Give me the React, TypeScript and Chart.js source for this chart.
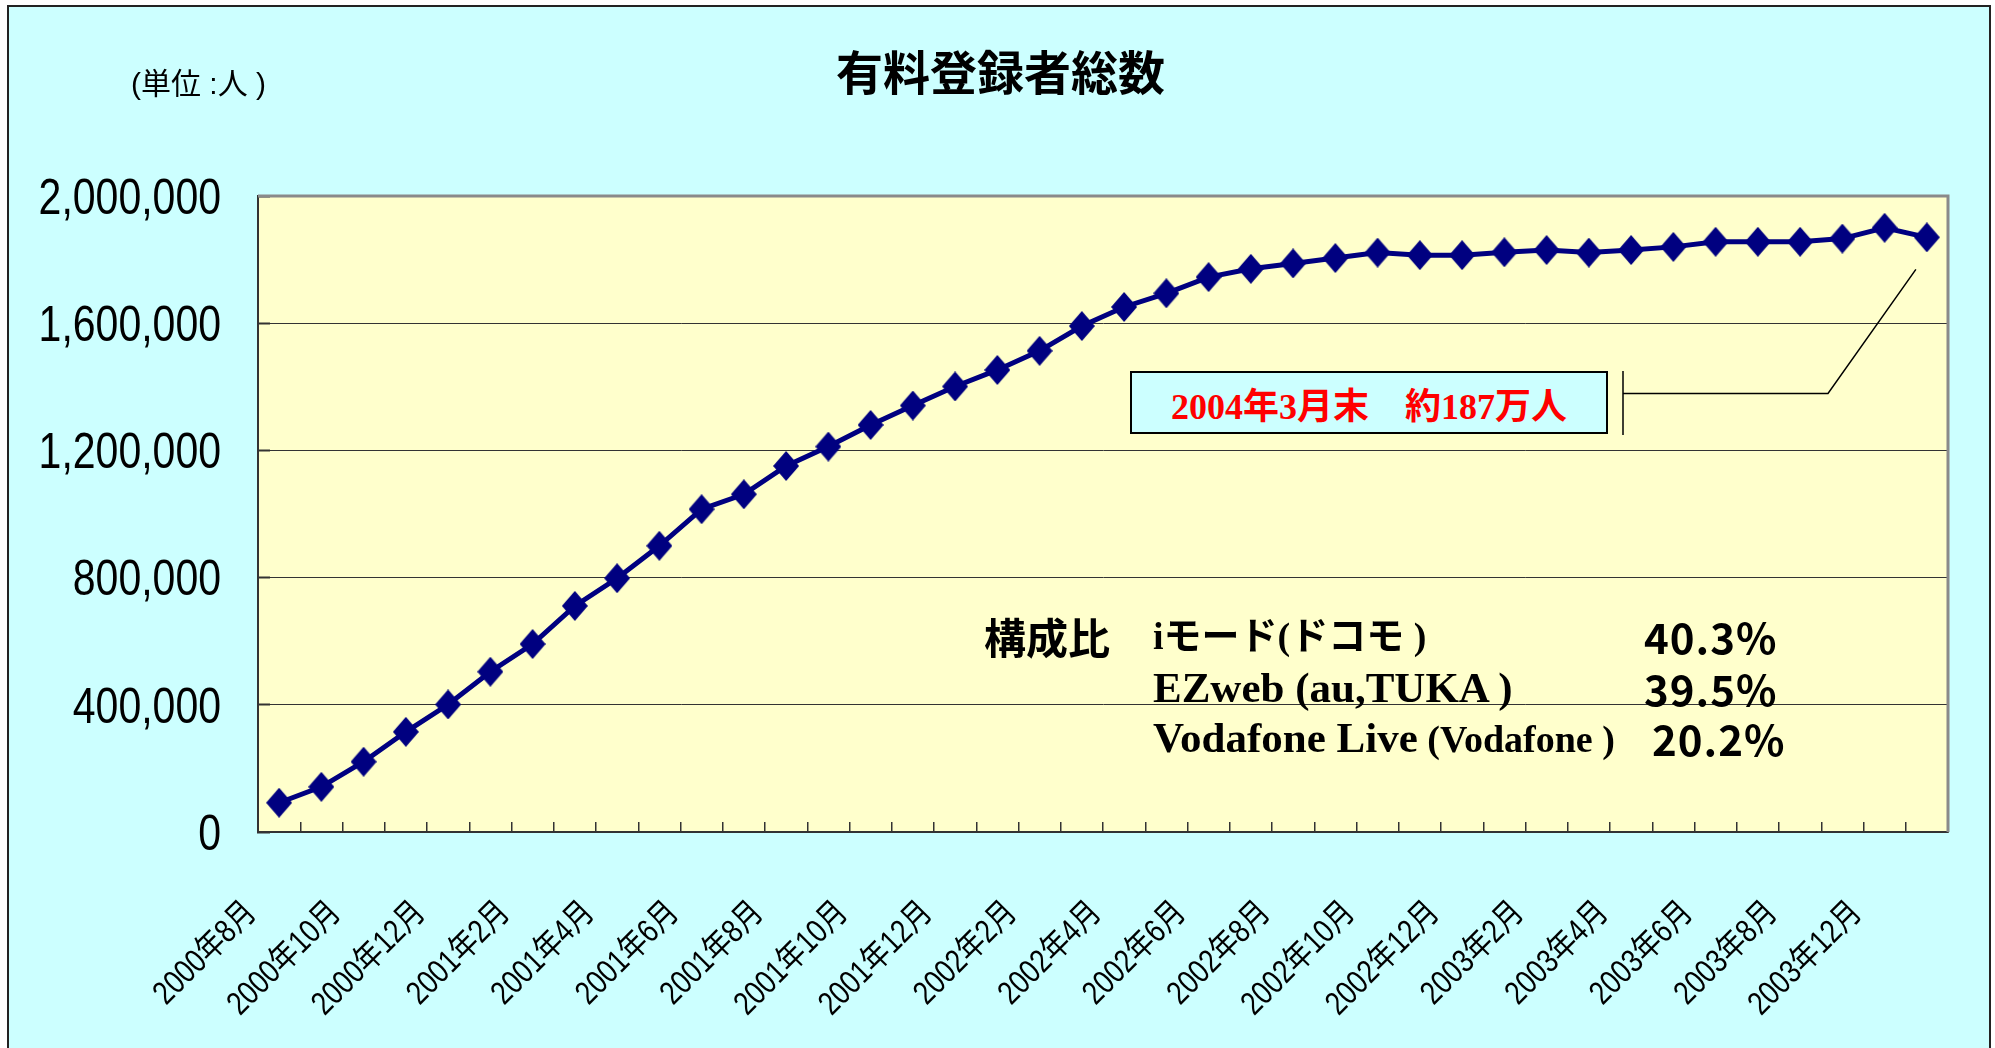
import React, { useEffect, useRef } from 'react';
import { Chart, registerables, LinearScale, CategoryScale } from 'chart.js';

Chart.register(...registerables);

// ---- data ----
const months: string[] = [
  '2000年8月', '2000年9月', '2000年10月', '2000年11月', '2000年12月',
  '2001年1月', '2001年2月', '2001年3月', '2001年4月', '2001年5月', '2001年6月',
  '2001年7月', '2001年8月', '2001年9月', '2001年10月', '2001年11月', '2001年12月',
  '2002年1月', '2002年2月', '2002年3月', '2002年4月', '2002年5月', '2002年6月',
  '2002年7月', '2002年8月', '2002年9月', '2002年10月', '2002年11月', '2002年12月',
  '2003年1月', '2003年2月', '2003年3月', '2003年4月', '2003年5月', '2003年6月',
  '2003年7月', '2003年8月', '2003年10月', '2003年12月', '2004年3月',
];

const subscribers: number[] = [
  92000, 142000, 221000, 315000, 401000, 504000, 591000, 711000, 798000, 900000,
  1015000, 1062000, 1151000, 1212000, 1280000, 1341000, 1401000, 1453000, 1513000, 1591000,
  1651000, 1694000, 1745000, 1771000, 1788000, 1805000, 1822000, 1814000, 1814000, 1823000,
  1830000, 1822000, 1830000, 1840000, 1856000, 1856000, 1856000, 1866000, 1900000, 1870000,
];

const yMin = 0;
const yMax = 2000000;
const yStep = 400000;

const titleText = '有料登録者総数';
const unitText = '(単位 :人 )';
const calloutText = '2004年3月末\u3000約187万人';
const shareHeading = '構成比';
const shareNames: string[] = ['iモード(ドコモ )', 'EZweb (au,TUKA )', 'Vodafone Live'];
const shareSubNames: string[] = ['', '', '(Vodafone )'];
const shareValues: string[] = ['40.3%', '39.5%', '20.2%'];

const NAVY = '#000080';
const CONDENSE = 0.82;

// draws the scale's own label items, horizontally condensed (narrow font look)
function drawCondensedLabels(scale: any, chartArea: any) {
  if (!scale.options.ticks.display) return;
  const ctx = scale.ctx as CanvasRenderingContext2D;
  const items = scale.getLabelItems(chartArea);
  for (const item of items) {
    const { label, font, textOffset, options: o } = item;
    if (label === '' || label == null) continue;
    ctx.save();
    ctx.translate(o.translation[0], o.translation[1]);
    ctx.rotate(o.rotation);
    ctx.scale(CONDENSE, 1);
    ctx.font = font.string;
    ctx.fillStyle = o.color;
    ctx.textAlign = o.textAlign;
    ctx.textBaseline = o.textBaseline;
    const lines = Array.isArray(label) ? label : [label];
    lines.forEach((l: any, j: number) => ctx.fillText(String(l), 0, textOffset + j * font.lineHeight));
    ctx.restore();
  }
}

class NarrowLinearScale extends (LinearScale as any) {
  static id = 'narrowLinear';
  drawLabels(chartArea: any) { drawCondensedLabels(this, chartArea); }
}
class NarrowCategoryScale extends (CategoryScale as any) {
  static id = 'narrowCategory';
  drawLabels(chartArea: any) { drawCondensedLabels(this, chartArea); }
}
Chart.register(NarrowLinearScale as any, NarrowCategoryScale as any);

function makeDiamond(): HTMLCanvasElement {
  const c = document.createElement('canvas');
  c.width = 26;
  c.height = 30;
  const g = c.getContext('2d')!;
  g.fillStyle = NAVY;
  g.beginPath();
  g.moveTo(13, 0);
  g.lineTo(26, 15);
  g.lineTo(13, 30);
  g.lineTo(0, 15);
  g.closePath();
  g.fill();
  return c;
}

const plotDecor = {
  id: 'plotDecor',
  beforeDraw(chart: any) {
    const { ctx, chartArea: a } = chart;
    ctx.save();
    ctx.fillStyle = '#FFFFCC';
    ctx.fillRect(a.left, a.top, a.right - a.left, a.bottom - a.top);
    ctx.restore();
  },
  beforeDatasetsDraw(chart: any) {
    const { ctx, chartArea: a } = chart;
    ctx.save();
    ctx.strokeStyle = '#8a8a8a';
    ctx.lineWidth = 3;
    ctx.beginPath();
    ctx.moveTo(a.left, a.top);
    ctx.lineTo(a.right, a.top);
    ctx.lineTo(a.right, a.bottom);
    ctx.stroke();
    ctx.restore();
  },
  afterDatasetsDraw(chart: any) {
    const { ctx } = chart;
    const xs = chart.scales.x;
    const ys = chart.scales.y;
    const last = subscribers.length - 1;
    const px = xs.getPixelForValue(last);
    const py = ys.getPixelForValue(subscribers[last]);
    ctx.save();
    ctx.strokeStyle = '#000';
    ctx.lineWidth = 1.5;
    ctx.beginPath();
    ctx.moveTo(1623, 371);
    ctx.lineTo(1623, 435);
    ctx.moveTo(1623, 393.5);
    ctx.lineTo(1828, 393.5);
    ctx.lineTo(px - 11, py + 32);
    ctx.stroke();
    ctx.restore();
  },
};

export default function App() {
  const canvasRef = useRef<HTMLCanvasElement | null>(null);

  useEffect(() => {
    if (!canvasRef.current) return;
    const diamond = makeDiamond();
    const chart = new Chart(canvasRef.current, {
      type: 'line',
      data: {
        labels: months,
        datasets: [
          {
            data: subscribers,
            borderColor: NAVY,
            borderWidth: 5,
            pointStyle: diamond as any,
            pointRadius: 14,
            pointBackgroundColor: NAVY,
            tension: 0,
          },
        ],
      },
      options: {
        responsive: false,
        animation: false,
        devicePixelRatio: 1,
        layout: { padding: { left: 0, right: 47, top: 196, bottom: 0 } },
        plugins: {
          legend: { display: false },
          title: { display: false },
          tooltip: { enabled: false },
        },
        scales: {
          x: {
            type: 'narrowCategory' as any,
            offset: true,
            grid: {
              display: true,
              offset: true,
              drawOnChartArea: false,
              drawTicks: true,
              tickLength: -10,
              color: '#333',
              lineWidth: 1.5,
            },
            border: { display: true, color: '#333', width: 2 },
            ticks: {
              autoSkip: false,
              minRotation: 45,
              maxRotation: 45,
              padding: 72,
              labelOffset: -28,
              color: '#000',
              font: { family: "'Liberation Sans', 'Noto Sans CJK JP', sans-serif", size: 33 },
              callback: (_v: any, i: number) => (i % 2 === 0 ? months[i] : ''),
            },
            afterFit: (s: any) => { s.height = 216; s.paddingLeft = 0; s.paddingRight = 0; },
          } as any,
          y: {
            type: 'narrowLinear' as any,
            min: yMin,
            max: yMax,
            ticks: {
              stepSize: yStep,
              padding: 49,
              labelOffset: 4,
              color: '#000',
              font: { family: "'Liberation Sans', Arial, sans-serif", size: 50 },
              callback: (v: any) => Number(v).toLocaleString('en-US'),
            },
            grid: {
              color: '#333',
              lineWidth: 1,
              drawTicks: true,
              tickLength: -12,
              tickWidth: 2,
            },
            border: { display: true, color: '#333', width: 2 },
            afterFit: (s: any) => { s.width = 258; s.paddingTop = 0; s.paddingBottom = 0; },
          } as any,
        },
      },
      plugins: [plotDecor],
    });
    return () => chart.destroy();
  }, []);

  const gothic = "'Noto Sans CJK JP', 'Noto Sans', sans-serif";
  const serif = "'Liberation Serif', 'Noto Sans CJK JP', serif";

  const rowY = [636, 688, 738];

  return (
    <div style={{ position: 'absolute', left: 0, top: 0, width: 1995, height: 1048, overflow: 'hidden', background: '#fff' }}>
      <div style={{ position: 'absolute', left: 7, top: 5, width: 1984, height: 1100, boxSizing: 'border-box', border: '2px solid #222', background: '#CCFFFF' }} />
      <canvas ref={canvasRef} width={1995} height={1048} style={{ position: 'absolute', left: 0, top: 0, width: 1995, height: 1048 }} />
      <div style={{ position: 'absolute', left: 836, top: 46, fontFamily: gothic, fontWeight: 700, fontSize: 47, lineHeight: '47px', color: '#000', whiteSpace: 'nowrap' }}>{titleText}</div>
      <div style={{ position: 'absolute', left: 131, top: 68, fontFamily: "'Liberation Sans', 'Noto Sans CJK JP', sans-serif", fontSize: 30, lineHeight: '31px', color: '#000', whiteSpace: 'nowrap' }}>{unitText}</div>
      <div style={{ position: 'absolute', left: 1130, top: 371, width: 478, height: 63, boxSizing: 'border-box', border: '2px solid #000', background: '#CCFFFF', display: 'flex', alignItems: 'center', justifyContent: 'center', fontFamily: serif, fontWeight: 700, fontSize: 36, color: '#FF0000', whiteSpace: 'nowrap' }}>{calloutText}</div>
      <div style={{ position: 'absolute', left: 984, top: rowY[0] - 22, fontFamily: gothic, fontWeight: 700, fontSize: 42, lineHeight: '44px', color: '#000', whiteSpace: 'nowrap' }}>{shareHeading}</div>
      {shareNames.map((n, i) => (
        <div key={'n' + i} style={{ position: 'absolute', left: 1153, top: rowY[i] - 24, fontFamily: serif, fontWeight: 700, fontSize: i === 0 ? 38 : 43, lineHeight: '48px', color: '#000', whiteSpace: 'nowrap' }}>
          {n}
          {shareSubNames[i] ? <span style={{ fontSize: 38 }}> {shareSubNames[i]}</span> : null}
        </div>
      ))}
      {shareValues.map((v, i) => (
        <div key={'v' + i} style={{ position: 'absolute', left: i === 2 ? 1652 : 1644, top: rowY[i] - 24, fontFamily: gothic, fontWeight: 700, fontSize: 42, lineHeight: '48px', letterSpacing: 1, color: '#000', whiteSpace: 'nowrap' }}>{v}</div>
      ))}
    </div>
  );
}
